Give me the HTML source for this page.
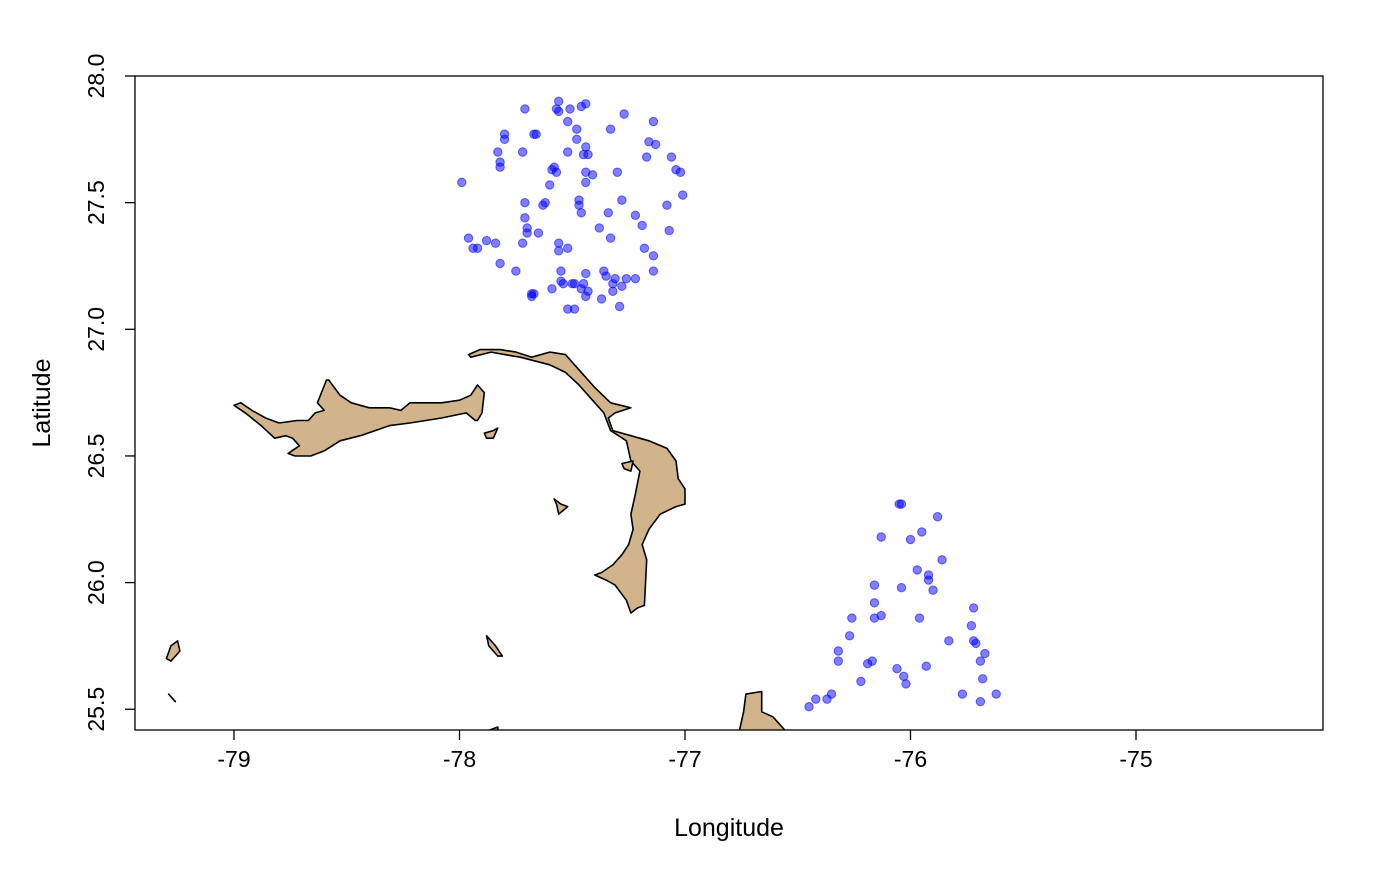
<!DOCTYPE html>
<html><head><meta charset="utf-8">
<style>
html,body{margin:0;padding:0;background:#fff;}
svg text{font-family:"Liberation Sans",Arial,sans-serif;fill:#000;}
</style></head>
<body>
<svg id="chart" width="1400" height="865" viewBox="0 0 1400 865" xmlns="http://www.w3.org/2000/svg">
<defs><clipPath id="plotclip"><rect x="135" y="76" width="1188" height="654"/></clipPath></defs>
<g id="land" clip-path="url(#plotclip)"></g>
<g id="pts" clip-path="url(#plotclip)"></g>
<rect x="135" y="76" width="1188" height="654" fill="none" stroke="#000" stroke-width="1.3"/>
<g id="axes"></g>
<text x="729" y="836" font-size="25" text-anchor="middle">Longitude</text>
<text transform="translate(50,403) rotate(-90)" font-size="25" text-anchor="middle">Latitude</text>
</svg>
<script>
const xTicks=[-79,-78,-77,-76,-75];
const yTicks=[25.5,26.0,26.5,27.0,27.5,28.0];
const yTickLabels=["25.5","26.0","26.5","27.0","27.5","28.0"];
const ptLon=[-77.99,-77.96,-77.94,-77.92,-77.88,-77.84,-77.83,-77.82,-77.82,-77.80,-77.80,-77.82,-77.75,-77.72,-77.72,-77.71,-77.71,-77.70,-77.71,-77.70,-77.68,-77.68,-77.67,-77.67,-77.66,-77.65,-77.63,-77.62,-77.60,-77.59,-77.59,-77.58,-77.57,-77.56,-77.57,-77.56,-77.56,-77.56,-77.55,-77.55,-77.54,-77.52,-77.52,-77.52,-77.52,-77.51,-77.50,-77.49,-77.49,-77.48,-77.48,-77.47,-77.47,-77.46,-77.46,-77.45,-77.46,-77.45,-77.44,-77.44,-77.44,-77.44,-77.44,-77.43,-77.44,-77.43,-77.41,-77.38,-77.37,-77.36,-77.35,-77.34,-77.33,-77.33,-77.32,-77.32,-77.31,-77.30,-77.29,-77.28,-77.28,-77.27,-77.26,-77.22,-77.22,-77.19,-77.18,-77.17,-77.16,-77.14,-77.14,-77.13,-77.14,-77.08,-77.07,-77.06,-77.04,-77.02,-77.01,
-76.45,-76.42,-76.37,-76.35,-76.32,-76.32,-76.27,-76.26,-76.22,-76.19,-76.17,-76.16,-76.16,-76.16,-76.13,-76.13,-76.06,-76.05,-76.04,-76.04,-76.03,-76.02,-76.00,-75.97,-75.96,-75.95,-75.93,-75.92,-75.92,-75.90,-75.88,-75.86,-75.83,-75.77,-75.73,-75.72,-75.72,-75.71,-75.69,-75.69,-75.68,-75.67,-75.62];
const ptLat=[27.58,27.36,27.32,27.32,27.35,27.34,27.70,27.66,27.64,27.75,27.77,27.26,27.23,27.34,27.70,27.87,27.44,27.38,27.50,27.40,27.14,27.13,27.14,27.77,27.77,27.38,27.49,27.50,27.57,27.63,27.16,27.64,27.62,27.90,27.87,27.86,27.31,27.34,27.23,27.19,27.18,27.08,27.82,27.32,27.70,27.87,27.18,27.18,27.08,27.79,27.75,27.51,27.49,27.46,27.16,27.18,27.88,27.69,27.62,27.58,27.89,27.72,27.13,27.15,27.22,27.69,27.61,27.40,27.12,27.23,27.21,27.46,27.79,27.36,27.15,27.18,27.20,27.62,27.09,27.17,27.51,27.85,27.20,27.45,27.20,27.41,27.32,27.68,27.74,27.82,27.23,27.73,27.29,27.49,27.39,27.68,27.63,27.62,27.53,
25.51,25.54,25.54,25.56,25.73,25.69,25.79,25.86,25.61,25.68,25.69,25.99,25.92,25.86,25.87,26.18,25.66,26.31,26.31,25.98,25.63,25.60,26.17,26.05,25.86,26.20,25.67,26.03,26.01,25.97,26.26,26.09,25.77,25.56,25.83,25.90,25.77,25.76,25.69,25.53,25.62,25.72,25.56];
const grandBahama=[[-79.00,26.70],[-78.95,26.67],[-78.88,26.62],[-78.82,26.57],[-78.77,26.58],[-78.74,26.57],[-78.71,26.54],[-78.76,26.51],[-78.73,26.50],[-78.66,26.50],[-78.60,26.52],[-78.53,26.56],[-78.44,26.58],[-78.31,26.62],[-78.22,26.63],[-78.08,26.65],[-77.97,26.67],[-77.93,26.64],[-77.92,26.64],[-77.90,26.67],[-77.89,26.75],[-77.92,26.78],[-77.95,26.74],[-78.00,26.72],[-78.08,26.71],[-78.15,26.71],[-78.22,26.71],[-78.26,26.68],[-78.31,26.69],[-78.40,26.69],[-78.48,26.71],[-78.53,26.74],[-78.58,26.80],[-78.59,26.80],[-78.63,26.71],[-78.60,26.68],[-78.64,26.67],[-78.67,26.64],[-78.72,26.64],[-78.80,26.63],[-78.86,26.65],[-78.92,26.68],[-78.97,26.71]];
const abaco=[[-77.96,26.90],[-77.91,26.92],[-77.82,26.92],[-77.75,26.91],[-77.68,26.89],[-77.60,26.91],[-77.53,26.90],[-77.47,26.84],[-77.40,26.77],[-77.33,26.71],[-77.24,26.69],[-77.31,26.67],[-77.34,26.65],[-77.32,26.60],[-77.24,26.58],[-77.16,26.56],[-77.08,26.53],[-77.04,26.48],[-77.03,26.41],[-77.00,26.37],[-77.00,26.31],[-77.04,26.30],[-77.11,26.27],[-77.16,26.21],[-77.19,26.15],[-77.17,26.09],[-77.18,25.91],[-77.21,25.90],[-77.24,25.88],[-77.26,25.93],[-77.31,25.99],[-77.35,26.01],[-77.40,26.03],[-77.37,26.04],[-77.32,26.07],[-77.28,26.11],[-77.25,26.15],[-77.23,26.21],[-77.24,26.27],[-77.22,26.35],[-77.20,26.44],[-77.24,26.48],[-77.26,26.56],[-77.33,26.60],[-77.36,26.67],[-77.41,26.72],[-77.47,26.78],[-77.53,26.83],[-77.60,26.86],[-77.73,26.89],[-77.80,26.90],[-77.86,26.91],[-77.95,26.89]];
const smallIslands=[
[[-77.89,26.59],[-77.85,26.60],[-77.83,26.61],[-77.85,26.57],[-77.88,26.57]],
[[-77.58,26.33],[-77.55,26.31],[-77.52,26.30],[-77.56,26.27],[-77.57,26.31]],
[[-77.28,26.47],[-77.23,26.48],[-77.24,26.44],[-77.27,26.45]],
[[-77.88,25.79],[-77.84,25.75],[-77.81,25.71],[-77.83,25.71],[-77.87,25.75]],
[[-79.30,25.70],[-79.28,25.75],[-79.25,25.77],[-79.24,25.73],[-79.26,25.71],[-79.28,25.69]],
[[-79.29,25.56],[-79.26,25.53],[-79.265,25.535]],
[[-76.76,25.41],[-76.74,25.49],[-76.73,25.56],[-76.66,25.57],[-76.66,25.49],[-76.61,25.47],[-76.55,25.41]],
[[-77.89,25.41],[-77.83,25.43],[-77.83,25.41]]];

const NS="http://www.w3.org/2000/svg";
function sx(lon){return 234+(lon+79)*225.5;}
function sy(lat){return 76+(28-lat)*253.3;}
const land=document.getElementById('land');
function poly(pts,name){
  const p=document.createElementNS(NS,'polygon');
  p.setAttribute('points',pts.map(q=>sx(q[0]).toFixed(1)+','+sy(q[1]).toFixed(1)).join(' '));
  p.setAttribute('fill','#d2b48c');p.setAttribute('stroke','#000');p.setAttribute('stroke-width','1.6');p.setAttribute('stroke-linejoin','round');
  
  
  land.appendChild(p);
}
poly(grandBahama,'grand-bahama');
poly(abaco,'abaco');
smallIslands.forEach((s,i)=>poly(s,'small-island-'+i));
const g=document.getElementById('pts');
for(let i=0;i<ptLon.length;i++){
  const c=document.createElementNS(NS,'circle');
  c.setAttribute('cx',sx(ptLon[i]));c.setAttribute('cy',sy(ptLat[i]));c.setAttribute('r','4.2');
  c.setAttribute('fill','rgba(0,0,255,0.5)');c.setAttribute('stroke','rgba(0,0,255,0.55)');c.setAttribute('stroke-width','1');
  
  
  g.appendChild(c);
}
const ax=document.getElementById('axes');
xTicks.forEach(t=>{
  const l=document.createElementNS(NS,'line');
  l.setAttribute('x1',sx(t));l.setAttribute('x2',sx(t));l.setAttribute('y1',730);l.setAttribute('y2',740);l.setAttribute('stroke','#000');l.setAttribute('stroke-width','1.3');
  
  
  ax.appendChild(l);
  const tx=document.createElementNS(NS,'text');
  tx.setAttribute('x',sx(t));tx.setAttribute('y',767);tx.setAttribute('font-size','23');tx.setAttribute('text-anchor','middle');
  tx.textContent=String(t);
  
  
  ax.appendChild(tx);
});
const xl=document.createElementNS(NS,'line');
xl.setAttribute('x1',sx(-79));xl.setAttribute('x2',sx(-75));xl.setAttribute('y1',730);xl.setAttribute('y2',730);xl.setAttribute('stroke','#000');


ax.appendChild(xl);
yTicks.forEach((t,i)=>{
  const l=document.createElementNS(NS,'line');
  l.setAttribute('x1',125);l.setAttribute('x2',135);l.setAttribute('y1',sy(t));l.setAttribute('y2',sy(t));l.setAttribute('stroke','#000');l.setAttribute('stroke-width','1.3');
  
  
  ax.appendChild(l);
  const tx=document.createElementNS(NS,'text');
  tx.setAttribute('transform','translate(104,'+sy(t)+') rotate(-90)');tx.setAttribute('font-size','23');tx.setAttribute('text-anchor','middle');
  tx.textContent=yTickLabels[i];
  
  
  ax.appendChild(tx);
});
</script>
</body></html>
